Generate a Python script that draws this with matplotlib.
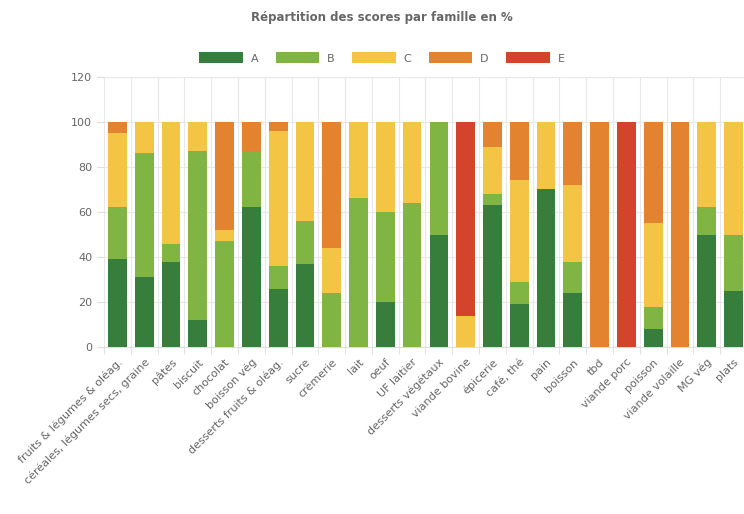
import matplotlib
matplotlib.use("Agg")
import matplotlib.pyplot as plt
import matplotlib.transforms as mtransforms
import numpy as np

familles = [
    "fruits & légumes & oléag.", "céréales, légumes secs, graine", "pâtes", "biscuit",
    "chocolat", "boisson vég", "desserts fruits & oléag.", "sucre", "crèmerie", "lait",
    "oeuf", "UF laitier", "desserts végétaux", "viande bovine", "épicerie", "café, thé",
    "pain", "boisson", "tbd", "viande porc", "poisson", "viande volaille", "MG vég", "plats",
]
score_a = [39, 31, 38, 12, 0, 62, 26, 37, 0, 0, 20, 0, 50, 0, 63, 19, 70, 24, 0, 0, 8, 0, 50, 25]
score_b = [23, 55, 8, 75, 47, 25, 10, 19, 24, 66, 40, 64, 50, 0, 5, 10, 0, 14, 0, 0, 10, 0, 12, 25]
score_c = [33, 14, 54, 13, 5, 0, 60, 44, 20, 34, 40, 36, 0, 14, 21, 45, 30, 34, 0, 0, 37, 0, 38, 50]
score_d = [5, 0, 0, 0, 48, 13, 4, 0, 56, 0, 0, 0, 0, 0, 11, 26, 0, 28, 100, 0, 45, 100, 0, 0]
score_e = [0, 0, 0, 0, 0, 0, 0, 0, 0, 0, 0, 0, 0, 86, 0, 0, 0, 0, 0, 100, 0, 0, 0, 0]

series = [("A", score_a, "#377d3b"), ("B", score_b, "#80b543"),
          ("C", score_c, "#f4c544"), ("D", score_d, "#e4832f"),
          ("E", score_e, "#d4442c")]

fig = plt.figure(figsize=(7.44, 5.14), dpi=100)
ax = fig.add_axes([104 / 744, 1 - 347.3 / 514, 643 / 744, 270.6 / 514])

x = np.arange(len(familles))
bottom = np.zeros(len(familles))
for name, vals, col in series:
    ax.bar(x, vals, width=0.7, bottom=bottom, color=col, label=name, zorder=3)
    bottom += np.array(vals)

ax.set_ylim(0, 120)
ax.set_yticks(range(0, 121, 20))
ax.set_xlim(-0.5, len(familles) - 0.5)
ax.set_xticks(x)
ax.set_xticklabels(familles, rotation=45, ha="right", rotation_mode="anchor",
                   fontsize=8, color="#666666")
# nudge labels a bit to the right, like the original
shift = mtransforms.ScaledTranslation(5 / 100, 0, fig.dpi_scale_trans)
for lab in ax.get_xticklabels():
    lab.set_transform(lab.get_transform() + shift)
ax.tick_params(axis="x", length=0, pad=7)
ax.set_xticks(np.arange(-0.5, len(familles)), minor=True)
ax.tick_params(axis="x", which="minor", length=5, color="#dddddd")
ax.tick_params(axis="y", labelsize=8, labelcolor="#666666", length=5, color="#dddddd")

ax.grid(True, which="minor", axis="x", color="#e8e8e8", lw=0.8, zorder=0)
ax.grid(True, which="major", axis="y", color="#e8e8e8", lw=0.8, zorder=0)
for s in ["top", "right", "left"]:
    ax.spines[s].set_visible(False)
ax.spines["bottom"].set_color("#dddddd")

fig.text(382 / 744, 1 - 18 / 514, "Répartition des scores par famille en %",
         ha="center", va="center", fontsize=8.5, fontweight="bold", color="#666666")
fig.legend(loc="center", bbox_to_anchor=(382 / 744, 1 - 58 / 514), ncol=5,
           frameon=False, fontsize=8, handlelength=3.9, handleheight=1.1,
           handletextpad=0.7, columnspacing=1.6, labelcolor="#666666")

fig.savefig("out.png", dpi=100)
